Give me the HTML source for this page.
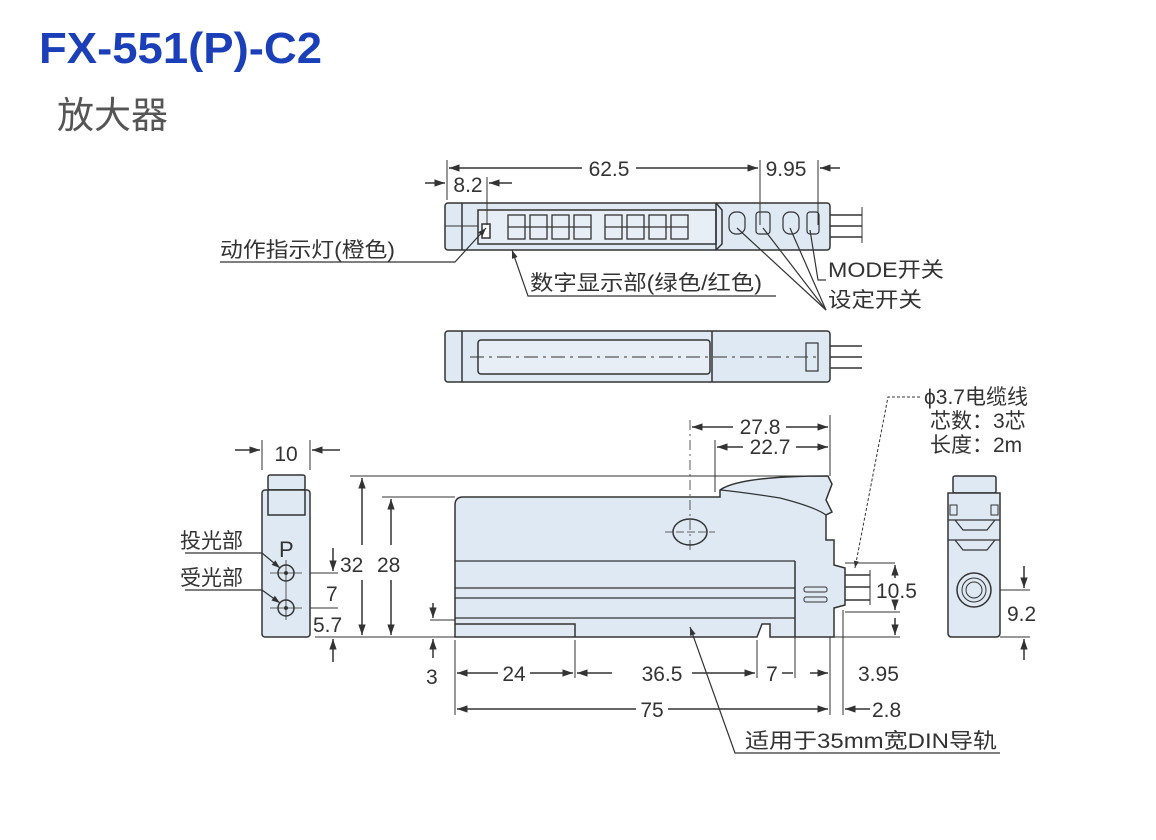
<!DOCTYPE html>
<html><head><meta charset="utf-8"><style>
html,body{margin:0;padding:0;background:#fff;}
svg{display:block;}
text{font-family:"Liberation Sans","Noto Sans CJK SC",sans-serif;fill:#333;}
.d{font-size:21px;}
.c{font-size:21px;}
</style></head><body>
<svg width="1156" height="840" viewBox="0 0 1156 840" xmlns="http://www.w3.org/2000/svg">
<defs>
<marker id="a" viewBox="0 0 10 10" refX="10" refY="5" markerWidth="9" markerHeight="7" orient="auto-start-reverse"><path d="M0,1.5 L10,5 L0,8.5z" fill="#333"/></marker>
</defs>
<text x="39" y="63" style="font-size:44px;font-weight:bold;fill:#1a3fb8" textLength="283" lengthAdjust="spacingAndGlyphs">FX-551(P)-C2</text>
<text x="57" y="128" style="font-size:37px;fill:#555">放大器</text>

<g stroke="#333" stroke-width="1.5" fill="none">
<!-- TOP VIEW -->
<rect x="445" y="203" width="385" height="47" rx="3" fill="#dfe9f3"/>
<line x1="462" y1="203" x2="462" y2="250"/>
<line x1="445" y1="226" x2="478" y2="226" stroke-width="1"/>
<rect x="478" y="210" width="238" height="34" fill="#e8eef5"/>
<rect x="482" y="224" width="8" height="14" fill="#fff"/>
<line x1="716" y1="203" x2="716" y2="250"/>
<path d="M716,203 L722,210 L722,244 L716,250"/>
<g stroke-width="1.2">
<rect x="729" y="212" width="16" height="22" rx="7"/><rect x="756" y="212" width="14" height="22" rx="3"/>
<rect x="783" y="212" width="16" height="22" rx="7"/><rect x="807" y="212" width="12" height="22" rx="3"/>
</g>
<line x1="830" y1="215" x2="862" y2="215"/><line x1="830" y1="226" x2="862" y2="226"/><line x1="830" y1="237" x2="862" y2="237"/>
<line x1="862" y1="207" x2="862" y2="243" stroke-width="1"/>
<g stroke-width="1.3">
<rect x="508" y="215" width="17" height="24"/><rect x="530" y="215" width="17" height="24"/><rect x="552" y="215" width="17" height="24"/><rect x="574" y="215" width="17" height="24"/>
<rect x="605" y="215" width="17" height="24"/><rect x="627" y="215" width="17" height="24"/><rect x="649" y="215" width="17" height="24"/><rect x="671" y="215" width="17" height="24"/>
<line x1="508" y1="227" x2="591" y2="227"/><line x1="605" y1="227" x2="688" y2="227"/>
</g>
<line x1="447" y1="160" x2="447" y2="200" stroke-width="1"/>
<line x1="760" y1="160" x2="760" y2="225" stroke-width="1"/>
<line x1="818" y1="160" x2="818" y2="225" stroke-width="1"/>
<line x1="487" y1="177" x2="487" y2="225" stroke-width="1"/>
<line x1="449" y1="168" x2="582" y2="168" marker-start="url(#a)"/>
<line x1="636" y1="168" x2="758" y2="168" marker-end="url(#a)"/>
<line x1="840" y1="168" x2="820" y2="168" marker-end="url(#a)"/>
<line x1="425" y1="183" x2="445" y2="183" marker-end="url(#a)"/>
<line x1="512" y1="183" x2="489" y2="183" marker-end="url(#a)"/>
<polyline points="220,262 455,262 486,228" stroke-width="1.2" marker-end="url(#a)"/>
<polyline points="776,296 528,296 512,250" stroke-width="1.2" marker-end="url(#a)"/>
<polyline points="826,280 818,280 810,230" stroke-width="1.2"/>
<line x1="826" y1="310" x2="737" y2="228" stroke-width="1.2"/>
<line x1="826" y1="310" x2="763" y2="228" stroke-width="1.2"/>
<line x1="826" y1="310" x2="790" y2="228" stroke-width="1.2"/>

<!-- SECOND VIEW -->
<rect x="445" y="331" width="385" height="51" rx="3" fill="#dfe9f3"/>
<line x1="462" y1="331" x2="462" y2="382"/>
<rect x="478" y="340" width="232" height="34" rx="3" fill="#e8eef5"/>
<line x1="712" y1="331" x2="712" y2="382"/>
<rect x="806" y="343" width="12" height="28" stroke-width="1.2"/>
<line x1="830" y1="346" x2="862" y2="346"/><line x1="830" y1="357" x2="862" y2="357"/><line x1="830" y1="368" x2="862" y2="368"/>
<line x1="470" y1="357" x2="820" y2="357" stroke-width="1" stroke-dasharray="14,5,3,5"/>

<!-- SIDE VIEW LEFT -->
<rect x="268" y="475" width="37" height="15" rx="2" fill="#dfe9f3"/>
<rect x="262" y="490" width="48" height="147" rx="3" fill="#dfe9f3"/>
<rect x="268" y="490" width="37" height="25" fill="#dfe9f3"/>
<circle cx="286" cy="573" r="8"/><circle cx="286" cy="608" r="8"/>
<circle cx="286" cy="573" r="1.2" fill="#333"/><circle cx="286" cy="608" r="1.2" fill="#333"/>
<line x1="270" y1="573" x2="302" y2="573" stroke-width="0.8"/><line x1="270" y1="608" x2="302" y2="608" stroke-width="0.8"/>
<line x1="286" y1="560" x2="286" y2="620" stroke-width="0.8"/>
<polyline points="185,553 262,553 280,568" stroke-width="1.2" marker-end="url(#a)"/>
<polyline points="185,590 262,590 280,603" stroke-width="1.2" marker-end="url(#a)"/>
<line x1="262" y1="440" x2="262" y2="470" stroke-width="1"/><line x1="310" y1="440" x2="310" y2="470" stroke-width="1"/>
<line x1="235" y1="450" x2="260" y2="450" marker-end="url(#a)"/><line x1="340" y1="450" x2="312" y2="450" marker-end="url(#a)"/>
<line x1="310" y1="573" x2="338" y2="573" stroke-width="1"/><line x1="310" y1="608" x2="338" y2="608" stroke-width="1"/>
<line x1="315" y1="637" x2="350" y2="637" stroke-width="1"/>
<line x1="333" y1="548" x2="333" y2="571" marker-end="url(#a)"/>
<line x1="333" y1="662" x2="333" y2="639" marker-end="url(#a)"/>

<!-- FRONT VIEW -->
<path d="M455,637 L455,505 Q455,497 463,497 L720,497 L720,490 Q740,476 828,476 L832,484 L826,500 L832,512 L826,515 L826,540 L834,540 L834,565 L845,568 L845,605 L834,608 L834,637 L770,637 L770,624 L762,624 L757,637 Z" fill="#dfe9f3"/>
<path d="M575,637 L575,624 L455,624" />
<path d="M455,561 L795,561 M455,588 L795,588 M455,598 L795,598 M455,618 L795,618" stroke-width="1.2"/>
<line x1="795" y1="561" x2="795" y2="637"/>
<rect x="804" y="587" width="23" height="5" rx="2" stroke-width="1"/><rect x="804" y="597" width="23" height="5" rx="2" stroke-width="1"/>
<path d="M720,490 Q742,492 780,498 Q815,507 826,515" stroke-width="1.2"/>
<ellipse cx="690" cy="532" rx="17" ry="13"/>
<line x1="690" y1="420" x2="690" y2="550" stroke-width="0.8" stroke-dasharray="10,4,2,4"/>
<line x1="665" y1="532" x2="715" y2="532" stroke-width="0.8" stroke-dasharray="8,3"/>
<line x1="715" y1="440" x2="715" y2="492" stroke-width="1"/>
<line x1="830" y1="415" x2="830" y2="476" stroke-width="1"/>
<line x1="845" y1="575" x2="870" y2="575"/><line x1="845" y1="587" x2="870" y2="587"/><line x1="845" y1="600" x2="870" y2="600"/>
<line x1="870" y1="570" x2="870" y2="605" stroke-width="1"/>
<line x1="350" y1="476" x2="828" y2="476" stroke-width="1"/>
<line x1="382" y1="497" x2="455" y2="497" stroke-width="1"/>
<line x1="350" y1="637" x2="455" y2="637" stroke-width="1"/>
<line x1="362" y1="478" x2="362" y2="545" marker-start="url(#a)"/><line x1="362" y1="580" x2="362" y2="635" marker-end="url(#a)"/>
<line x1="391" y1="499" x2="391" y2="545" marker-start="url(#a)"/><line x1="391" y1="580" x2="391" y2="635" marker-end="url(#a)"/>
<line x1="430" y1="620" x2="455" y2="620" stroke-width="1"/>
<line x1="433" y1="603" x2="433" y2="618" marker-end="url(#a)"/>
<line x1="433" y1="658" x2="433" y2="639" marker-end="url(#a)"/>
<line x1="455" y1="640" x2="455" y2="715" stroke-width="1"/>
<line x1="575" y1="640" x2="575" y2="678" stroke-width="1"/>
<line x1="757" y1="640" x2="757" y2="678" stroke-width="1"/>
<line x1="795" y1="637" x2="795" y2="678" stroke-width="1"/>
<line x1="830" y1="637" x2="830" y2="715" stroke-width="1"/>
<line x1="843" y1="610" x2="843" y2="715" stroke-width="1"/>
<line x1="498" y1="673" x2="457" y2="673" marker-end="url(#a)"/><line x1="530" y1="673" x2="573" y2="673" marker-end="url(#a)"/>
<line x1="612" y1="673" x2="577" y2="673" marker-end="url(#a)"/><line x1="692" y1="673" x2="755" y2="673" marker-end="url(#a)"/>
<line x1="782" y1="673" x2="793" y2="673"/><line x1="810" y1="673" x2="828" y2="673" marker-end="url(#a)"/>
<line x1="636" y1="709" x2="457" y2="709" marker-end="url(#a)"/><line x1="668" y1="709" x2="828" y2="709" marker-end="url(#a)"/>
<line x1="870" y1="709" x2="845" y2="709" marker-end="url(#a)"/>
<line x1="692" y1="427" x2="733" y2="427" marker-start="url(#a)"/><line x1="786" y1="427" x2="828" y2="427" marker-end="url(#a)"/>
<line x1="717" y1="447" x2="743" y2="447" marker-start="url(#a)"/><line x1="796" y1="447" x2="828" y2="447" marker-end="url(#a)"/>
<line x1="845" y1="563" x2="895" y2="563" stroke-width="1"/>
<line x1="845" y1="612" x2="900" y2="612" stroke-width="1"/>
<line x1="834" y1="637" x2="900" y2="637" stroke-width="1"/>
<line x1="895" y1="565" x2="895" y2="578" marker-start="url(#a)"/><line x1="895" y1="600" x2="895" y2="610" marker-end="url(#a)"/>
<line x1="895" y1="618" x2="895" y2="635" marker-end="url(#a)"/>
<polyline points="920,397 888,397 855,568" stroke-width="1" stroke-dasharray="3,2" marker-end="url(#a)"/>
<polyline points="742,753 735,753 690,627" stroke-width="1.2" marker-end="url(#a)"/>
<line x1="742" y1="753" x2="1000" y2="753" stroke-width="1.2"/>

<!-- RIGHT END VIEW -->
<rect x="953" y="476" width="43" height="17" rx="2" fill="#dfe9f3"/>
<path d="M948,493 L1000,493 L1000,633 Q1000,637 996,637 L952,637 Q948,637 948,633 Z" fill="#dfe9f3"/>
<path d="M948,520 L1000,520 M948,540 L1000,540 M955,520 L963,530 L987,530 L995,520 M955,540 L963,550 L987,550 L995,540" stroke-width="1.2"/>
<rect x="950" y="505" width="7" height="10" stroke-width="1"/><rect x="991" y="505" width="7" height="10" stroke-width="1"/>
<circle cx="974" cy="590" r="17"/><circle cx="974" cy="590" r="12" stroke-width="1"/><circle cx="974" cy="590" r="8" stroke-width="1"/>
<line x1="1000" y1="590" x2="1030" y2="590" stroke-width="1"/><line x1="1000" y1="637" x2="1030" y2="637" stroke-width="1"/>
<line x1="1024" y1="566" x2="1024" y2="588" marker-end="url(#a)"/>
<line x1="1024" y1="660" x2="1024" y2="639" marker-end="url(#a)"/>
</g>

<text class="d" x="609" y="176" text-anchor="middle">62.5</text>
<text class="d" x="786" y="176" text-anchor="middle">9.95</text>
<text class="d" x="468" y="192" text-anchor="middle">8.2</text>
<text class="c" x="220" y="257" textLength="175" lengthAdjust="spacingAndGlyphs">动作指示灯(橙色)</text>
<text class="c" x="530" y="290" textLength="232" lengthAdjust="spacingAndGlyphs">数字显示部(绿色/红色)</text>
<text class="c" x="828" y="277" textLength="116" lengthAdjust="spacingAndGlyphs">MODE开关</text>
<text class="c" x="828" y="307" textLength="94" lengthAdjust="spacingAndGlyphs">设定开关</text>
<text class="d" x="286" y="461" text-anchor="middle">10</text>
<text class="c" x="180" y="548">投光部</text>
<text class="c" x="180" y="585">受光部</text>
<text x="279" y="557" style="font-size:22px">P</text>
<text class="d" x="326" y="601">7</text>
<text class="d" x="313" y="632">5.7</text>
<text class="d" x="340" y="572">32</text>
<text class="d" x="377" y="572">28</text>
<text class="d" x="426" y="684">3</text>
<text class="d" x="514" y="681" text-anchor="middle">24</text>
<text class="d" x="662" y="681" text-anchor="middle">36.5</text>
<text class="d" x="772" y="681" text-anchor="middle">7</text>
<text class="d" x="652" y="717" text-anchor="middle">75</text>
<text class="d" x="858" y="681">3.95</text>
<text class="d" x="872" y="717">2.8</text>
<text class="d" x="760" y="434" text-anchor="middle">27.8</text>
<text class="d" x="770" y="454" text-anchor="middle">22.7</text>
<text class="d" x="876" y="598">10.5</text>
<text class="d" x="1007" y="621">9.2</text>
<text class="c" x="924" y="404">ϕ3.7电缆线</text>
<text class="c" x="930" y="428">芯数：3芯</text>
<text class="c" x="930" y="452">长度：2m</text>
<text class="c" x="745" y="748" textLength="252" lengthAdjust="spacingAndGlyphs">适用于35mm宽DIN导轨</text>
</svg>
</body></html>
